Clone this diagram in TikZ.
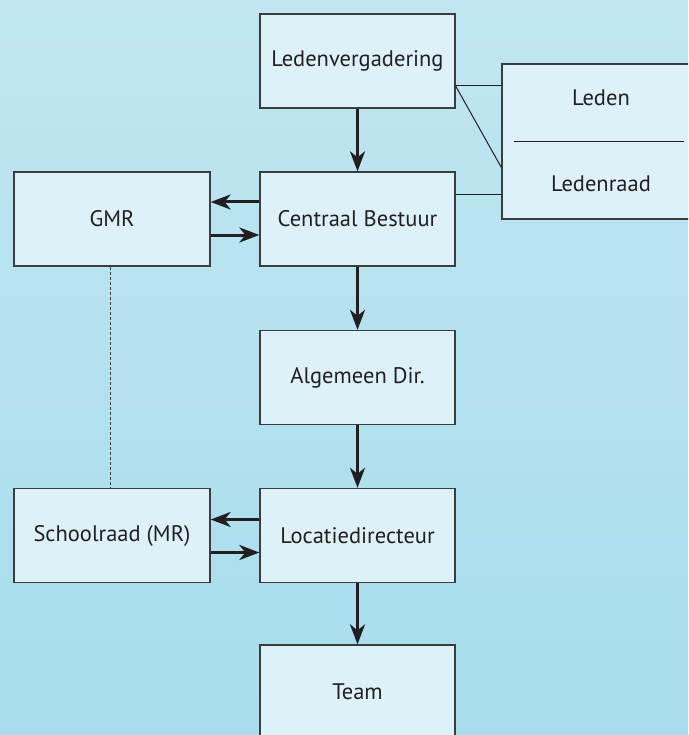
\documentclass[tikz,border=0pt]{standalone}
\usepackage{fontspec}
\setmainfont{PT Sans}
\usetikzlibrary{arrows.meta}
\definecolor{bgtop}{HTML}{C1E6F1}
\definecolor{bgbot}{HTML}{A7DDED}
\definecolor{boxfill}{HTML}{DDF2F8}
\definecolor{ink}{HTML}{231F20}
\definecolor{rim}{HTML}{3C3C3C}
\begin{document}
\begin{tikzpicture}[x=1pt,y=-1pt,
		orgbox/.style={draw=rim,line width=1.3pt,fill=boxfill,minimum width=195pt,minimum height=94pt,inner sep=0pt,font=\fontsize{22.5}{26}\selectfont,text=ink},
		flow/.style={line width=3pt,ink,-{Stealth[length=20pt,width=15pt,inset=6pt]}},
		thin/.style={line width=1pt,ink}]
		\useasboundingbox (0,0) rectangle (688,735);
		\clip (0,0) rectangle (688,735);
		\shade[top color=bgtop,bottom color=bgbot] (0,0) rectangle (688,735);
		% main column
		\node[orgbox] (lv) at (357.5,61) {Ledenvergadering};
		\node[orgbox] (cb) at (357.5,219) {Centraal Bestuur};
		\node[orgbox] (ad) at (357.5,377.5) {Algemeen Dir.};
		\node[orgbox] (ld) at (357.5,535.5) {Locatiedirecteur};
		\node[orgbox] (team) at (357.5,692) {Team};
		% left column
		\node[orgbox,minimum width=196pt] (gmr) at (112,219) {GMR};
		\node[orgbox,minimum width=196pt] (sr) at (112,535.5) {Schoolraad (MR)};
		% leden / ledenraad
		\node[orgbox,minimum width=198pt,minimum height=155pt] (leden) at (601,141.5) {};
		\node[font=\fontsize{22.5}{26}\selectfont,text=ink] (ledentxt) at (601,98) {Leden};
		\node[font=\fontsize{22.5}{26}\selectfont,text=ink] (raadtxt) at (601,184) {Ledenraad};
		\coordinate (divl) at (514,142);
		\coordinate (divr) at (684,142);
		\draw[thin] (divl) -- (divr);
		% connectors
		\draw[flow] (lv) -- (cb);
		\draw[flow] (cb) -- (ad);
		\draw[flow] (ad) -- (ld);
		\draw[flow] (ld) -- (team);
		\draw[flow] ([yshift=17pt]cb.west) -- ([yshift=17pt]gmr.east);
		\draw[flow] ([yshift=-16pt]gmr.east) -- ([yshift=-16pt]cb.west);
		\draw[flow] ([yshift=16pt]ld.west) -- ([yshift=16pt]sr.east);
		\draw[flow] ([yshift=-17pt]sr.east) -- ([yshift=-17pt]ld.west);
		\draw[rim,line width=1pt,dash pattern=on 3pt off 2pt] ([xshift=-2pt]gmr.south) -- ([xshift=-2pt]sr.north);
		\coordinate (lvout) at ([yshift=-25pt]lv.east);
		\draw[thin] (lvout) -- (lvout -| leden.west);
		\draw[thin] (lvout) -- ([yshift=-26pt]leden.west);
		\draw[thin] ([yshift=24pt]cb.east) -- ([yshift=24pt]cb.east -| leden.west);
\end{tikzpicture}
\end{document}
